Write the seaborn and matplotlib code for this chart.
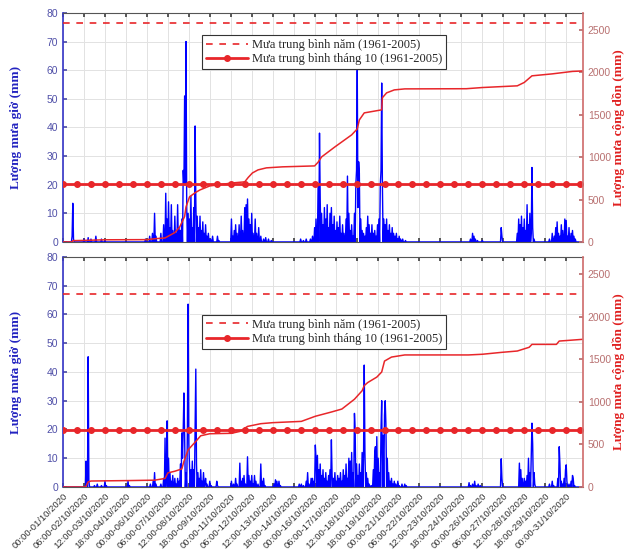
import numpy as np
import matplotlib
matplotlib.use("Agg")
import matplotlib.pyplot as plt
import seaborn as sns

sns.set_theme(style="whitegrid")
plt.rcParams['font.family'] = ['Liberation Sans', 'DejaVu Sans']

# ---- DATA ----
N_HOURS = 744

# top station: hourly rain (hour index -> mm)
top_rain_hours = [13, 14, 15, 30, 36, 40, 47, 55, 60, 118, 124, 128, 131, 133,
                  140, 144, 147, 149, 151, 153, 155, 157, 160, 162, 164, 166, 168, 170, 172, 173,
                  174, 175, 176, 177, 179, 181, 183, 185, 187, 189, 190, 192, 194, 196, 198, 200,
                  202, 204, 206, 208, 211, 214, 221, 223,
                  241, 243, 245, 247, 249, 252, 255, 257, 260, 262, 264, 266, 268, 270, 272, 275,
                  277, 280, 283, 287, 290, 294, 298,
                  340, 344, 348, 354, 357, 360, 362, 365, 367, 368, 370, 372, 374, 376, 378, 380,
                  382, 384, 386, 388, 390, 392, 394, 396, 398, 400, 402, 405, 407, 409, 411, 413,
                  415, 417, 419, 420, 421, 422, 423, 424, 426, 428, 430, 432, 434, 436, 438, 440,
                  442, 444, 446, 448, 450, 452, 454, 455, 456, 457, 459, 461, 463, 465, 467, 469,
                  471, 473, 475, 477, 479, 481, 483, 486, 490,
                  583, 586, 588, 590, 593, 600, 627, 628,
                  650, 652, 654, 656, 658, 660, 662, 664, 666, 668, 670, 671, 672, 674,
                  696, 700, 703, 705, 707, 709, 711, 713, 715, 718, 720, 722, 724, 727, 729, 731, 733]
top_rain_mm = [2, 13.5, 1, 1, 1.5, 1, 2, 1, 0.5, 1, 2, 3, 10, 2,
               3, 6, 17, 8, 14, 5, 13, 4, 9, 3, 13, 5, 4, 8, 25, 20,
               51, 20, 70, 12, 10, 8, 16, 5, 12, 40.5, 15, 9, 5, 9, 4, 7,
               3, 6, 2, 3, 1, 2, 2, 0.5,
               8, 2, 4, 6, 3, 6, 9, 4, 12, 13, 15, 8, 6, 10, 3, 8,
               3, 5, 2, 1, 1.5, 1, 0.5,
               1, 0.5, 1, 1, 2, 5, 8, 20, 38, 15, 10, 6, 12, 8, 13, 5,
               10, 12, 6, 9, 4, 7, 5, 9, 3, 6, 3, 8, 23, 10, 4, 6,
               2, 10, 20, 25, 60, 12, 28, 24, 8, 4, 3, 2, 5, 9, 6, 3,
               6, 3, 4, 2, 6, 8, 20, 25, 55.5, 20, 8, 6, 8, 4, 6, 3,
               5, 3, 2, 3, 1, 2, 1, 1, 0.5,
               1, 3, 2, 1, 0.5, 0.5, 5, 2,
               3, 8, 6, 9, 5, 8, 4, 13, 6, 10, 3, 26, 5, 1,
               1, 3, 2, 5, 7, 3, 2, 6, 4, 8, 7.5, 2, 5, 3, 4, 2, 1]

# top station: cumulative rain (hour -> mm)
top_cum_hours = [0, 13, 14, 30, 47, 60, 120, 131, 146, 160, 167, 174, 176, 181, 189, 196,
                 210, 243, 260, 265, 271, 279, 291, 314, 360, 365, 370, 389, 413, 421, 424,
                 431, 456, 457, 463, 474, 489, 577, 600, 650, 660, 671, 700, 729, 743]
top_cum_mm = [0, 0, 15, 18, 22, 25, 27, 37, 47, 110, 177, 300, 413, 531, 580, 613,
              660, 696, 708, 760, 813, 849, 873, 885, 896, 940, 1002, 1120, 1262, 1332, 1438,
              1521, 1557, 1700, 1757, 1792, 1804, 1806, 1820, 1840, 1880, 1958, 1981, 2010, 2015]

# bottom station: hourly rain
bot_rain_hours = [33, 34, 36, 37, 45, 49, 55, 60, 62, 93, 95, 125, 129, 131, 133,
                  140, 144, 146, 148, 149, 151, 153, 155, 157, 160, 162, 164, 166, 168, 170, 171,
                  172, 173, 174, 176, 178, 179, 180, 181, 183, 185, 187, 189, 190, 191, 193, 195,
                  197, 199, 201, 203, 204, 206, 210, 212, 220, 221,
                  241, 244, 247, 249, 253, 255, 257, 259, 261, 264, 266, 268, 270, 272, 274, 276,
                  279, 283, 285, 287, 289, 302, 304, 306, 309, 311,
                  338, 341, 344, 348, 350, 352, 355, 357, 359, 361, 362, 364, 366, 368, 370, 372,
                  374, 376, 378, 380, 382, 384, 385, 387, 389, 391, 393, 395, 397, 399, 401, 403,
                  405, 407, 409, 411, 413, 415, 417, 418, 420, 422, 424, 426, 428, 430, 431, 432,
                  434, 436, 438, 441, 444, 446, 447, 449, 451, 453, 455, 456, 458, 460, 461, 462,
                  464, 466, 468, 470, 472, 474, 476, 479, 481, 485, 489, 491,
                  581, 583, 586, 589, 591, 594, 597, 627, 628,
                  653, 655, 657, 660, 662, 664, 666, 668, 670, 671, 672, 674, 675,
                  696, 700, 702, 708, 710, 711, 713, 715, 717, 719, 720, 721, 724, 727, 729, 730, 732]
bot_rain_mm = [9, 3, 45.3, 2, 0.5, 1, 0.5, 2, 0.5, 2, 0.5, 1, 2, 5, 1,
               1, 3, 17, 6, 23, 10, 5, 2, 4, 3, 1, 3, 2, 8, 18.8, 10,
               20, 32.7, 18, 5, 20, 63.6, 15, 8, 6, 9, 6, 20, 41, 8, 5, 3,
               6, 2, 5, 1, 3, 1, 2, 0.5, 2, 0.5,
               2, 1, 3, 1, 8.3, 2, 3, 4, 1, 10.5, 4, 2, 4, 1, 4, 2,
               1, 8, 2, 3, 0.5, 1, 2.5, 2, 2, 0.5,
               1, 1, 0.5, 2, 5, 1, 3, 3, 2, 14.6, 10, 11, 6, 8, 4, 6,
               3, 5, 2, 4, 6, 16.4, 4, 3, 5, 2, 4, 3, 5, 2, 6, 4,
               8, 3, 10, 9, 12, 5, 25.6, 20, 8, 4, 8, 5, 12, 10, 42.4, 12,
               5, 3, 1, 0.5, 6, 12, 14, 17.5, 10, 5, 20, 30, 18, 25, 30, 22,
               10, 5, 2, 3, 1, 2, 1, 2, 0.5, 1, 1, 0.5,
               1.5, 0.5, 1, 2, 0.5, 1, 0.5, 9.8, 3,
               8.3, 6, 3, 3, 2, 4, 10, 5, 12, 22.2, 15, 5, 1,
               1, 2, 0.5, 3, 14, 8, 2, 1, 3, 6, 7.7, 2, 1, 2, 4, 3, 0.5]

# bottom station: cumulative rain
bot_cum_hours = [0, 32, 33, 36, 40, 60, 93, 131, 146, 150, 160, 170, 173, 179, 190, 197,
                 210, 241, 253, 264, 283, 300, 341, 361, 384, 399, 417, 428, 431, 436, 449,
                 456, 460, 470, 489, 580, 600, 627, 650, 667, 671, 706, 710, 730, 743]
bot_cum_mm = [0, 0, 10, 60, 70, 72, 75, 80, 100, 165, 185, 212, 300, 436, 535, 601,
              625, 630, 652, 711, 743, 755, 770, 830, 880, 915, 1030, 1130, 1190, 1226, 1290,
              1350, 1478, 1525, 1550, 1550, 1558, 1580, 1596, 1640, 1674, 1674, 1713, 1725, 1733]

# long-term references (1961-2005), mm on the cumulative axis
top_annual_mean = 2586
top_october_mean = 684
bot_annual_mean = 2264
bot_october_mean = 672

tick_hours = list(range(0, 721, 30))
tick_labels = ["00:00-01/10/2020", "06:00-02/10/2020", "12:00-03/10/2020", "18:00-04/10/2020",
               "00:00-06/10/2020", "06:00-07/10/2020", "12:00-08/10/2020", "18:00-09/10/2020",
               "00:00-11/10/2020", "06:00-12/10/2020", "12:00-13/10/2020", "18:00-14/10/2020",
               "00:00-16/10/2020", "06:00-17/10/2020", "12:00-18/10/2020", "18:00-19/10/2020",
               "00:00-21/10/2020", "06:00-22/10/2020", "12:00-23/10/2020", "18:00-24/10/2020",
               "00:00-26/10/2020", "06:00-27/10/2020", "12:00-28/10/2020", "18:00-29/10/2020",
               "00:00-31/10/2020"]
marker_hours = list(range(0, 741, 20))

label_annual = "Mưa trung bình năm (1961-2005)"
label_october = "Mưa trung bình tháng 10 (1961-2005)"
ylabel_left = "Lượng mưa giờ (mm)"
ylabel_right = "Lượng mưa cộng dồn (mm)"

SERIF = ['Liberation Serif', 'DejaVu Serif']
BLUE = '#0000ff'
RED = '#e8262a'
LEFT_TXT = '#5050a8'
RIGHT_TXT = '#b87070'


def hourly_series(hours, values):
    s = np.zeros(N_HOURS)
    s[hours] = values
    return s


def draw_panel(ax, rain_h, rain_v, cum_h, cum_v, annual, october, legend_y, show_x):
    rain = hourly_series(rain_h, rain_v)
    sns.lineplot(x=np.arange(N_HOURS), y=rain, ax=ax, color=BLUE, linewidth=1.0)
    ax.set_xlim(0, N_HOURS)
    ax.set_ylim(0, 80)
    ax.set_yticks(range(0, 81, 10))
    ax.set_xticks(tick_hours)
    ax.grid(True, color='#e2e2e2', linewidth=0.7)
    ax.set_ylabel(ylabel_left, family=SERIF, fontsize=9.5, fontweight='bold', color='#2222c0')
    ax.yaxis.set_label_coords(-0.078, 0.5)
    ax.tick_params(axis='y', colors=LEFT_TXT, labelsize=7.5, direction='in', length=3, left=True)
    ax.tick_params(axis='x', direction='in', length=3, bottom=True, top=True, colors='#444444')
    if show_x:
        ax.set_xticklabels(tick_labels, rotation=45, ha='right', rotation_mode='anchor',
                           fontsize=6.8, color='#333333')
    else:
        ax.set_xticklabels([])
    for side in ['top', 'bottom']:
        ax.spines[side].set_color('#555555')
        ax.spines[side].set_linewidth(0.8)
    ax.spines['left'].set_color('#3c3cc8')
    ax.spines['right'].set_visible(False)

    ax2 = ax.twinx()
    ax2.grid(False)
    sns.lineplot(x=cum_h, y=cum_v, ax=ax2, color=RED, linewidth=1.1)
    ax2.axhline(annual, color=RED, linestyle='--', linewidth=1.2, dashes=(4, 4), label=label_annual)
    ax2.plot(marker_hours + [N_HOURS], [october] * (len(marker_hours) + 1), color=RED, linewidth=2,
             marker='o', markersize=4, markevery=list(range(len(marker_hours))), label=label_october)
    ax2.set_ylim(0, 2700)
    ax2.set_yticks(range(0, 2501, 500))
    ax2.set_xlim(0, N_HOURS)
    ax2.set_ylabel(ylabel_right, family=SERIF, fontsize=9.5, fontweight='bold', color='#e02020')
    ax2.yaxis.set_label_coords(1.057, 0.5)
    ax2.tick_params(axis='y', colors=RIGHT_TXT, labelsize=7.5, direction='in', length=3, right=True)
    ax2.spines['right'].set_color('#d07070')
    ax2.spines['left'].set_visible(False)
    ax2.spines['top'].set_visible(False)
    ax2.spines['bottom'].set_visible(False)
    leg = ax2.legend(loc='upper center', bbox_to_anchor=(0.502, legend_y), frameon=True,
                     fancybox=False, framealpha=1, edgecolor='#333333', borderpad=0.3,
                     handlelength=3.4, handletextpad=0.3, labelspacing=0.2,
                     prop={'family': SERIF, 'size': 9})
    leg.get_frame().set_linewidth(0.8)
    return ax2


fig = plt.figure(figsize=(6.27, 5.6), dpi=100)
ax_top = fig.add_axes([0.1005, 0.568, 0.8293, 0.409])
ax_bot = fig.add_axes([0.1005, 0.1304, 0.8293, 0.4107])

draw_panel(ax_top, top_rain_hours, top_rain_mm, top_cum_hours, top_cum_mm,
           top_annual_mean, top_october_mean, 0.93, False)
draw_panel(ax_bot, bot_rain_hours, bot_rain_mm, bot_cum_hours, bot_cum_mm,
           bot_annual_mean, bot_october_mean, 0.775, True)

fig.savefig("out.png", dpi=100)
